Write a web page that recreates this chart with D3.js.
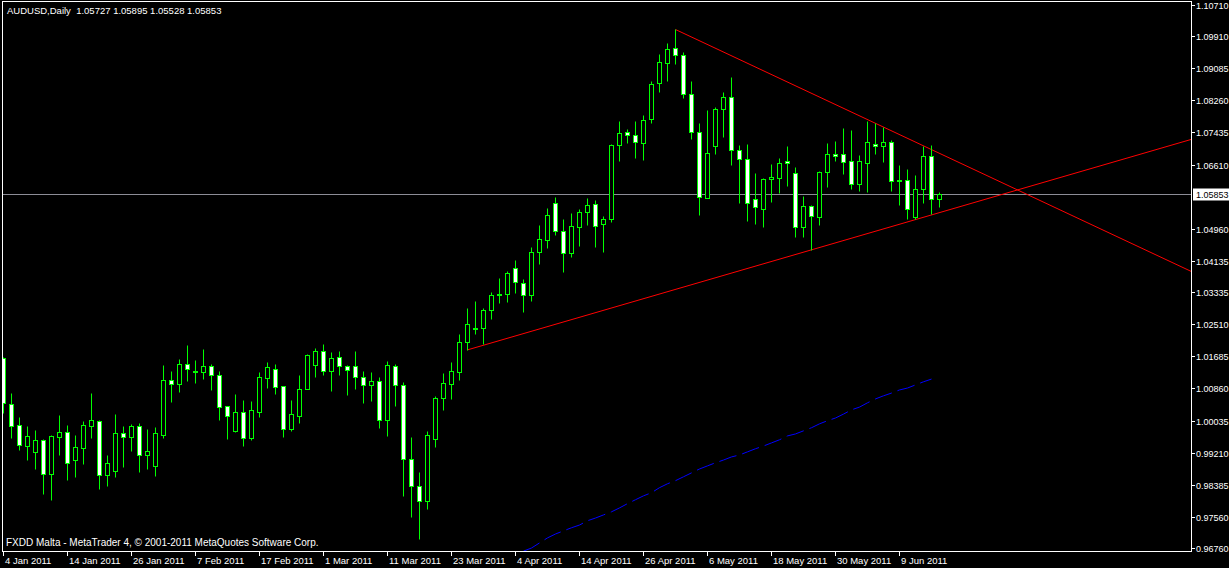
<!DOCTYPE html>
<html><head><meta charset="utf-8">
<script src="https://cdn.jsdelivr.net/npm/d3@7"></script>
<style>html,body{margin:0;padding:0;background:#000;overflow:hidden}</style>
</head><body>
<script>
// ---------- DATA ----------
const symbolTitle = "AUDUSD,Daily  1.05727 1.05895 1.05528 1.05853";
const copyright = "FXDD Malta - MetaTrader 4, \u00A9 2001-2011 MetaQuotes Software Corp.";
const firstDate = "2011-01-04"; // trading days (Mon-Fri) from here
const opens = [1.0164,1.0046,0.9992,0.9938,0.9923,0.9954,0.9866,0.9961,0.9974,0.9902,
0.9933,0.9990,1.0003,0.9864,0.9874,0.9972,0.9961,0.9990,0.9915,0.9887,
0.9967,1.0108,1.0098,1.0149,1.0130,1.0128,1.0144,1.0121,1.0041,0.9977,
1.0026,0.9959,1.0026,1.0113,1.0136,1.0092,0.9982,1.0015,1.0085,1.0146,
1.0182,1.0131,1.0167,1.0144,1.0144,1.0116,1.0095,1.0105,1.0005,1.0144,
1.0095,0.9905,0.9836,0.9797,0.9956,1.0062,1.0098,1.0128,1.0205,1.0238,
1.0241,1.0288,1.0326,1.0329,1.0395,1.0357,1.0326,1.0437,1.0467,1.0562,
1.0491,1.0434,1.0501,1.0539,1.0560,1.0508,1.0521,1.0711,1.0745,1.0737,
1.0717,1.0778,1.0871,1.0922,1.0961,1.0943,1.0842,1.0745,1.0575,1.0709,
1.0804,1.0835,1.0699,1.0675,1.0573,1.0547,1.0624,1.0627,1.0670,1.0639,
1.0501,1.0555,1.0526,1.0642,1.0688,1.0688,1.0670,1.0611,1.0665,1.0714,
1.0709,1.0719,1.0619,1.0621,1.0526,1.0598,1.0683,1.05727];
const highs = [1.0167,1.0074,1.0013,0.9990,0.9979,0.9955,0.9966,1.0018,0.9992,0.9967,
1.0003,1.0074,1.0005,0.9915,1.0020,0.9990,0.9995,0.9997,0.9982,0.9987,
1.0146,1.0131,1.0162,1.0198,1.0159,1.0187,1.0149,1.0131,1.0042,1.0072,
1.0056,1.0054,1.0128,1.0154,1.0149,1.0093,1.0056,1.0121,1.0175,1.0190,
1.0200,1.0180,1.0182,1.0145,1.0182,1.0131,1.0128,1.0116,1.0157,1.0149,
1.0103,0.9961,0.9872,0.9977,1.0067,1.0126,1.0154,1.0226,1.0293,1.0311,
1.0293,1.0334,1.0370,1.0388,1.0416,1.0367,1.0449,1.0506,1.0550,1.0578,
1.0521,1.0537,1.0547,1.0575,1.0570,1.0529,1.0714,1.0773,1.0752,1.0773,
1.0788,1.0876,1.0945,1.0973,1.1009,1.0950,1.0876,1.0768,1.0801,1.0809,
1.0848,1.0886,1.0711,1.0714,1.0639,1.0627,1.0663,1.0678,1.0709,1.0655,
1.0580,1.0557,1.0645,1.0717,1.0722,1.0755,1.0750,1.0686,1.0773,1.0768,
1.0758,1.0724,1.0660,1.0650,1.0634,1.0709,1.0711,1.05895];
const lows = [1.0023,0.9959,0.9928,0.9902,0.9879,0.9815,0.9800,0.9915,0.9851,0.9859,
0.9892,0.9959,0.9828,0.9836,0.9859,0.9884,0.9925,0.9872,0.9879,0.9861,
0.9959,1.0051,1.0077,1.0105,1.0100,1.0110,1.0082,1.0005,0.9956,0.9974,
0.9938,0.9954,1.0013,1.0087,1.0072,0.9961,0.9977,0.9997,1.0084,1.0116,
1.0121,1.0080,1.0121,1.0069,1.0085,1.0049,1.0054,0.9985,0.9964,1.0041,
0.9810,0.9756,0.9699,0.9776,0.9936,1.0031,1.0059,1.0108,1.0185,1.0226,
1.0200,1.0264,1.0306,1.0308,1.0331,1.0282,1.0311,1.0406,1.0447,1.0480,
1.0385,1.0424,1.0452,1.0506,1.0449,1.0437,1.0514,1.0670,1.0717,1.0678,
1.0673,1.0768,1.0848,1.0876,1.0919,1.0832,1.0727,1.0532,1.0574,1.0688,
1.0732,1.0660,1.0562,1.0516,1.0508,1.0501,1.0565,1.0588,1.0606,1.0475,
1.0475,1.0442,1.0506,1.0604,1.0670,1.0637,1.0598,1.0593,1.0591,1.0688,
1.0668,1.0593,1.0557,1.0521,1.0521,1.0562,1.0534,1.05528];
const closes = [1.0049,0.9990,0.9941,0.9964,0.9954,0.9866,0.9964,0.9974,0.9895,0.9936,
0.9992,1.0005,0.9864,0.9895,0.9972,0.9961,0.9990,0.9915,0.9925,0.9972,
1.0108,1.0098,1.0149,1.0136,1.0128,1.0144,1.0121,1.0038,1.0015,1.0026,
0.9959,1.0031,1.0116,1.0141,1.0090,0.9982,1.0020,1.0085,1.0172,1.0182,
1.0131,1.0164,1.0144,1.0133,1.0116,1.0095,1.0105,1.0005,1.0146,1.0095,
0.9905,0.9836,0.9797,0.9967,1.0062,1.0100,1.0131,1.0205,1.0252,1.0241,
1.0288,1.0326,1.0328,1.0383,1.0360,1.0326,1.0437,1.0470,1.0532,1.0491,
1.0434,1.0503,1.0539,1.0557,1.0503,1.0521,1.0711,1.0742,1.0737,1.0719,
1.0776,1.0868,1.0925,1.0958,1.0943,1.0842,1.0745,1.0578,1.0691,1.0804,
1.0835,1.0699,1.0675,1.0562,1.0552,1.0624,1.0629,1.0665,1.0665,1.0501,
1.0555,1.0529,1.0642,1.0688,1.0683,1.0668,1.0611,1.0670,1.0719,1.0709,
1.0719,1.0619,1.0621,1.0547,1.0598,1.0683,1.0573,1.05853];
// moving average (blue dashed), values from bar maStart onwards
const maStart = 65;
const maValues = [0.9668,0.9676,0.9689,0.9702,0.9712,0.9720,0.9728,0.9735,0.9746,0.9753,
0.9761,0.9769,0.9779,0.9790,0.9800,0.9810,0.9818,0.9831,0.9841,0.9849,
0.9859,0.9869,0.9879,0.9887,0.9895,0.9902,0.9910,0.9915,0.9923,0.9931,
0.9938,0.9946,0.9954,0.9964,0.9969,0.9977,0.9985,0.9995,1.0003,1.0010,
1.0020,1.0031,1.0038,1.0049,1.0059,1.0067,1.0074,1.0082,1.0087,1.0095,
1.0103,1.0110];
// trend lines (bar index, price) – rays to the right
const trendDown = [[84, 1.1008], [109, 1.0767]];
const trendUp = [[58, 1.0185], [101, 1.0442]];
const bidPrice = 1.05853;
const priceTicks = [1.10710,1.09910,1.09085,1.08260,1.07435,1.06610,1.04960,1.04135,1.03335,
1.02510,1.01685,1.00860,1.00035,0.99210,0.98385,0.97560,0.96760];
const priceTickLabels = ["1.10710","1.09910","1.09085","1.08260","1.07435","1.06610","1.04960","1.04135","1.03335",
"1.02510","1.01685","1.00860","1.00035","0.99210","0.98385","0.97560","0.96760"];
const dateTickEvery = 8;

// ---------- BUILD ----------
const W = 1229, H = 568;
const plot = {left: 2, top: 1, right: 1191, bottom: 551};
const FONT = "'Liberation Sans', Arial, sans-serif";

const parse = d3.timeParse("%Y-%m-%d");
const dates = [];
for (let d = parse(firstDate); dates.length < opens.length; d = d3.timeDay.offset(d, 1)) {
  const wd = d.getDay();
  if (wd !== 0 && wd !== 6) dates.push(d);
}
const fmt = d3.timeFormat("%-d %b %Y");
const bars = opens.map((o, i) => ({date: dates[i], o, h: highs[i], l: lows[i], c: closes[i]}));

const x = d3.scaleBand().domain(dates).range([-0.5, -0.5 + 8 * dates.length]).padding(0);
const xc = i => x.range()[0] + x.step() * i + x.bandwidth() / 2;
const y = d3.scaleLinear().domain([0.96760, 1.10710]).range([548, 5]);
const py = v => Math.round(y(v)) + 0.5;

const svg = d3.select("body").append("svg").attr("width", W).attr("height", H)
  .style("display", "block").style("background", "#000");
svg.append("rect").attr("width", W).attr("height", H).attr("fill", "#000");

svg.append("defs").append("clipPath").attr("id", "clip").append("rect")
  .attr("x", plot.left + 0.5).attr("y", plot.top + 0.5)
  .attr("width", plot.right - plot.left).attr("height", plot.bottom - plot.top);

const g = svg.append("g").attr("clip-path", "url(#clip)");

// bid line
g.append("line").attr("x1", plot.left).attr("x2", plot.right)
  .attr("y1", py(bidPrice)).attr("y2", py(bidPrice))
  .attr("stroke", "#8c8c96").attr("stroke-width", 1);

// moving average
const maLine = d3.line().x((d, i) => xc(maStart + i)).y(d => y(d));
g.append("path").datum(maValues).attr("d", maLine).attr("fill", "none")
  .attr("stroke", "#0000ff").attr("stroke-width", 1).attr("stroke-dasharray", "18,6");

// trend lines as rays
function ray(pts) {
  const [[b1, p1], [b2, p2]] = pts;
  const x1 = xc(b1), y1 = y(p1), x2 = xc(b2), y2 = y(p2);
  const slope = (y2 - y1) / (x2 - x1);
  const xe = plot.right + 2;
  return [[x1, y1], [xe, y1 + slope * (xe - x1)]];
}
[trendDown, trendUp].forEach(t => {
  g.append("path").datum(ray(t)).attr("d", d3.line()).attr("fill", "none")
    .attr("stroke", "#ff0000").attr("stroke-width", 1);
});

// candles
const cg = g.append("g");
bars.forEach((b, i) => {
  const cx = xc(i);
  cg.append("line").attr("x1", cx).attr("x2", cx).attr("y1", py(b.h)).attr("y2", py(b.l))
    .attr("stroke", "#00ff00").attr("stroke-width", 1);
  const top = py(Math.max(b.o, b.c)), bot = py(Math.min(b.o, b.c));
  if (bot - top < 1) {
    cg.append("line").attr("x1", cx - 2.5).attr("x2", cx + 2.5).attr("y1", top).attr("y2", top)
      .attr("stroke", "#00ff00").attr("stroke-width", 1);
  } else {
    cg.append("rect").attr("x", cx - 2).attr("y", top).attr("width", 4).attr("height", bot - top)
      .attr("fill", b.c >= b.o ? "#000" : "#fff").attr("stroke", "#00ff00").attr("stroke-width", 1);
  }
});

// frame
svg.append("rect").attr("x", plot.left + 0.5).attr("y", plot.top + 0.5)
  .attr("width", plot.right - plot.left).attr("height", plot.bottom - plot.top)
  .attr("fill", "none").attr("stroke", "#fff").attr("stroke-width", 1);

// right price axis
const AXF = `9px ${FONT}`;
const ra = svg.append("g");
priceTicks.forEach((v, i) => {
  ra.append("line").attr("x1", plot.right + 1).attr("x2", plot.right + 4)
    .attr("y1", py(v)).attr("y2", py(v)).attr("stroke", "#fff");
  ra.append("text").attr("x", plot.right + 5).attr("y", py(v)).attr("dy", "0.35em")
    .attr("fill", "#fff").style("font", AXF).text(priceTickLabels[i]);
});
// bid label
ra.append("rect").attr("x", plot.right + 2).attr("y", py(bidPrice) - 6).attr("width", 40).attr("height", 12)
  .attr("fill", "#fff");
ra.append("text").attr("x", plot.right + 5).attr("y", py(bidPrice)).attr("dy", "0.35em")
  .attr("fill", "#000").style("font", AXF).text(d3.format(".5f")(bidPrice));

// bottom date axis
const ba = svg.append("g");
dates.forEach((d, i) => {
  if (i % dateTickEvery !== 0) return;
  const cx = xc(i);
  ba.append("line").attr("x1", cx).attr("x2", cx).attr("y1", plot.bottom).attr("y2", plot.bottom + 5)
    .attr("stroke", "#fff");
  ba.append("text").attr("x", cx + 1.5).attr("y", 564).attr("fill", "#fff")
    .style("font", `9.5px ${FONT}`).text(fmt(d));
});

// texts
svg.append("text").attr("x", 7).attr("y", 14).attr("fill", "#fff")
  .style("font", `9.5px ${FONT}`).attr("xml:space", "preserve").style("white-space", "pre").text(symbolTitle);
svg.append("text").attr("x", 6).attr("y", 546).attr("fill", "#fff")
  .style("font", `10px ${FONT}`).text(copyright);
</script>
</body></html>
